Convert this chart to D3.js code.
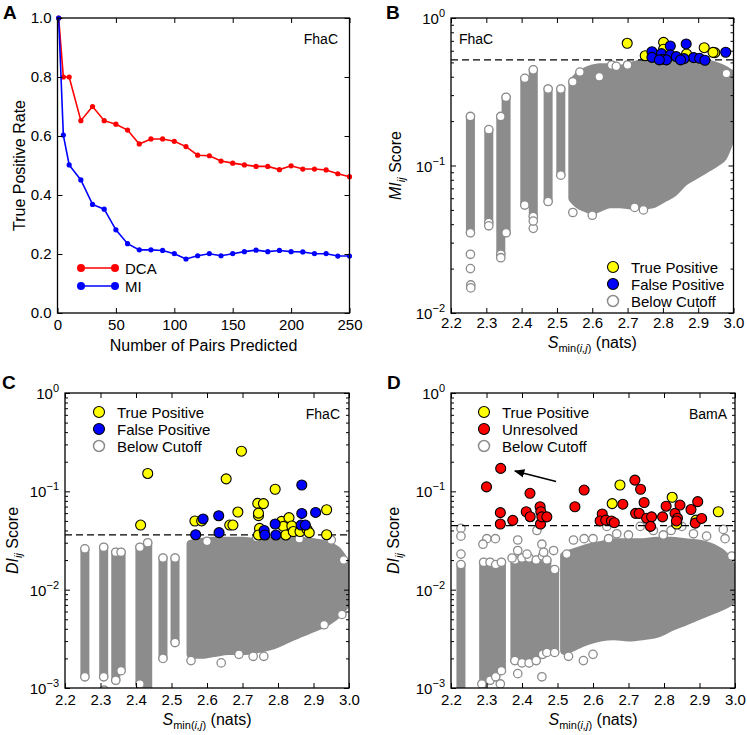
<!DOCTYPE html>
<html>
<head>
<meta charset="utf-8">
<script src="https://cdn.jsdelivr.net/npm/d3@7"></script>
<style>
  body { margin: 0; background: #fff; }
  text { font-family: "Liberation Sans", Arial, sans-serif; }
</style>
</head>
<body>
<svg id="fig" width="747" height="735"></svg>
<script>
// ---- panel A : true positive rate vs number of predicted pairs ----
const pairs = [1, 5, 10, 20, 30, 40, 50, 60, 70, 80, 90, 100, 110, 120, 130, 140, 150, 160, 170, 180, 190, 200, 210, 220, 230, 240, 250];
const dcaRate = [1.0, 0.80, 0.80, 0.652, 0.70, 0.652, 0.64, 0.62, 0.573, 0.59, 0.59, 0.582, 0.564, 0.535, 0.533, 0.515, 0.508, 0.502, 0.497, 0.497, 0.486, 0.499, 0.488, 0.488, 0.485, 0.472, 0.462];
const miRate = [1.0, 0.603, 0.502, 0.451, 0.368, 0.352, 0.282, 0.235, 0.214, 0.214, 0.212, 0.201, 0.183, 0.194, 0.201, 0.194, 0.201, 0.208, 0.213, 0.208, 0.212, 0.208, 0.207, 0.201, 0.201, 0.193, 0.193];
const pairTicks = [0, 50, 100, 150, 200, 250];
const rateTicks = [0, 0.2, 0.4, 0.6, 0.8, 1.0];

// ---- shared S_min axis ----
const sTicks = [2.2, 2.3, 2.4, 2.5, 2.6, 2.7, 2.8, 2.9, 3.0];

// ---- panel B : MI scores, FhaC ----
const bCut = 0.52;
// dense columns of below-cutoff pairs: [S_min, low, high]
const bColumns = [
  [2.255, 0.035, 0.215], [2.307, 0.041, 0.175], [2.341, 0.025, 0.215], [2.356, 0.035, 0.29],
  [2.409, 0.054, 0.39], [2.433, 0.045, 0.445], [2.475, 0.057, 0.33], [2.511, 0.086, 0.33]
];
const bBandS = [2.545, 2.56, 2.58, 2.60, 2.62, 2.65, 2.68, 2.71, 2.74, 2.77, 2.80, 2.83, 2.86, 2.89, 2.92, 2.95, 2.97, 2.99];
const bBandLow = [0.060, 0.055, 0.052, 0.050, 0.052, 0.055, 0.055, 0.054, 0.054, 0.055, 0.060, 0.066, 0.078, 0.086, 0.095, 0.105, 0.115, 0.15];
const bBandHigh = [0.36, 0.40, 0.43, 0.45, 0.46, 0.46, 0.45, 0.47, 0.49, 0.50, 0.50, 0.50, 0.50, 0.50, 0.49, 0.47, 0.45, 0.42];
const bSparse = [[2.255, 0.025], [2.255, 0.020], [2.256, 0.0155], [2.256, 0.0148], [2.307, 0.039], [2.341, 0.0237],
  [2.433, 0.0375], [2.433, 0.042], [2.545, 0.048], [2.60, 0.046], [2.72, 0.052], [2.745, 0.050], [2.545, 0.37],
  [2.62, 0.40], [2.655, 0.48], [2.668, 0.47], [2.70, 0.48], [2.565, 0.43], [2.98, 0.42]];
const bTrue = [[2.699, 0.674], [2.802, 0.684], [2.802, 0.614], [2.917, 0.629], [2.947, 0.582], [2.942, 0.585], [2.750, 0.555], [2.867, 0.570]];
const bFalse = [[2.821, 0.646], [2.866, 0.667], [2.978, 0.586], [2.769, 0.591], [2.769, 0.541], [2.796, 0.573], [2.821, 0.562],
  [2.838, 0.547], [2.887, 0.539], [2.904, 0.533], [2.919, 0.517], [2.80, 0.525], [2.81, 0.52], [2.86, 0.53], [2.85, 0.52], [2.79, 0.52]];

// ---- panel C : DI scores, FhaC ----
const cCut = 0.036;
const cColumns = [
  [2.256, 0.0013, 0.026], [2.309, 0.0013, 0.027], [2.343, 0.0012, 0.024], [2.358, 0.0015, 0.024],
  [2.411, 0.0011, 0.027], [2.433, 0.0009, 0.030], [2.476, 0.0020, 0.021], [2.510, 0.0029, 0.021]
];
const cBandS = [2.555, 2.58, 2.62, 2.66, 2.70, 2.74, 2.78, 2.82, 2.86, 2.90, 2.94, 2.97, 2.995];
const cBandLow = [0.0022, 0.0022, 0.0023, 0.0024, 0.0024, 0.0025, 0.0027, 0.0031, 0.0036, 0.0041, 0.0048, 0.0058, 0.0075];
const cBandHigh = [0.029, 0.030, 0.031, 0.031, 0.031, 0.030, 0.031, 0.032, 0.031, 0.030, 0.028, 0.024, 0.017];
const cSparse = [[2.31, 0.00095], [2.555, 0.0019], [2.64, 0.0018], [2.69, 0.0022], [2.73, 0.0021], [2.76, 0.0021],
  [2.93, 0.0044], [2.98, 0.0056], [2.60, 0.031], [2.74, 0.034], [2.86, 0.033], [2.95, 0.032], [2.985, 0.020]];
const cTrue = [[2.413, 0.0454], [2.433, 0.152], [2.566, 0.0499], [2.585, 0.050], [2.654, 0.134], [2.664, 0.0454], [2.673, 0.0454],
  [2.687, 0.0616], [2.697, 0.256], [2.743, 0.0754], [2.759, 0.075], [2.745, 0.0566], [2.745, 0.060], [2.748, 0.042], [2.745, 0.036],
  [2.792, 0.105], [2.81, 0.0495], [2.815, 0.044], [2.822, 0.036], [2.831, 0.054], [2.839, 0.0444], [2.843, 0.039], [2.862, 0.039],
  [2.882, 0.041], [2.888, 0.038], [2.937, 0.065], [2.937, 0.0362]];
const cFalse = [[2.568, 0.0362], [2.589, 0.0524], [2.633, 0.0565], [2.634, 0.038], [2.761, 0.040], [2.763, 0.036], [2.792, 0.0465],
  [2.794, 0.036], [2.867, 0.116], [2.867, 0.0596], [2.865, 0.0454], [2.877, 0.0454], [2.906, 0.061]];

// ---- panel D : DI scores, BamA ----
const dCut = 0.0448;
const dColumns = [
  [2.228, 0.0009, 0.018], [2.292, 0.0011, 0.019], [2.31, 0.0012, 0.019], [2.326, 0.0013, 0.018], [2.342, 0.0015, 0.019],
  [2.38, 0.0019, 0.020], [2.40, 0.0018, 0.021], [2.42, 0.0018, 0.021], [2.44, 0.0019, 0.020], [2.458, 0.0022, 0.022],
  [2.47, 0.0023, 0.020], [2.492, 0.0023, 0.016]
];
const dBandS = [2.52, 2.55, 2.58, 2.62, 2.66, 2.70, 2.74, 2.78, 2.82, 2.86, 2.90, 2.94, 2.97, 2.995];
const dBandLow = [0.0024, 0.0027, 0.0030, 0.0033, 0.0034, 0.0033, 0.0034, 0.0036, 0.0042, 0.0048, 0.0055, 0.0063, 0.0070, 0.0080];
const dBandHigh = [0.022, 0.024, 0.026, 0.028, 0.030, 0.030, 0.030, 0.031, 0.031, 0.030, 0.029, 0.026, 0.022, 0.016];
const dSparse = [[2.228, 0.042], [2.228, 0.035], [2.228, 0.023], [2.301, 0.033], [2.29, 0.029], [2.325, 0.033], [2.372, 0.021],
  [2.388, 0.032], [2.388, 0.025], [2.414, 0.023], [2.442, 0.040], [2.456, 0.029], [2.461, 0.024], [2.489, 0.025],
  [2.526, 0.023], [2.545, 0.032], [2.575, 0.033], [2.60, 0.033], [2.639, 0.044], [2.644, 0.033], [2.667, 0.037], [2.70, 0.036],
  [2.733, 0.044], [2.77, 0.040], [2.798, 0.036], [2.82, 0.040], [2.85, 0.044], [2.883, 0.037], [2.92, 0.035], [2.967, 0.041],
  [2.972, 0.033], [2.991, 0.022], [2.287, 0.0011], [2.339, 0.0011], [2.388, 0.0014], [2.456, 0.0013], [2.531, 0.0021],
  [2.573, 0.0019], [2.60, 0.0022]];
const dTrue = [[2.654, 0.075], [2.676, 0.116], [2.823, 0.087], [2.836, 0.0465], [2.890, 0.051], [2.953, 0.062]];
const dUnresolved = [[2.30, 0.111], [2.34, 0.171], [2.339, 0.0607], [2.339, 0.0465], [2.374, 0.0507], [2.412, 0.062], [2.4225, 0.0955],
  [2.423, 0.0552], [2.451, 0.0697], [2.453, 0.062], [2.452, 0.0465], [2.456, 0.055], [2.470, 0.055], [2.549, 0.0697], [2.575, 0.103],
  [2.626, 0.0588], [2.62, 0.050], [2.636, 0.051], [2.652, 0.050], [2.66, 0.048], [2.684, 0.074], [2.718, 0.130], [2.734, 0.105],
  [2.72, 0.0597], [2.73, 0.0597], [2.744, 0.077], [2.751, 0.0533], [2.765, 0.055], [2.762, 0.044], [2.796, 0.055], [2.806, 0.0706],
  [2.831, 0.0597], [2.838, 0.0532], [2.835, 0.050], [2.845, 0.0725], [2.876, 0.0653], [2.895, 0.0785], [2.888, 0.0475], [2.906, 0.053]];
const dArrow = [[2.496, 0.126], [2.38, 0.161]];

const GRAY = '#8c8c8c';
const svg = d3.select('#fig');

function styleAxis(sel) {
  sel.select('.domain').remove();
  sel.selectAll('line').attr('stroke', '#000').attr('stroke-width', 1);
  sel.selectAll('text').attr('font-family', '"Liberation Sans", Arial, sans-serif').attr('font-size', 15).attr('fill', '#000');
}

function box(g, p) {
  g.append('rect').attr('x', p.l).attr('y', p.t).attr('width', p.r - p.l).attr('height', p.b - p.t)
    .attr('fill', 'none').attr('stroke', '#000').attr('stroke-width', 1.3);
}

function xAxes(g, x, p, ticks, fmt, pad) {
  g.append('g').attr('transform', `translate(0,${p.b})`)
    .call(d3.axisBottom(x).tickValues(ticks).tickSize(-5).tickPadding(pad).tickFormat(fmt)).call(styleAxis);
  g.append('g').attr('transform', `translate(0,${p.t})`)
    .call(d3.axisTop(x).tickValues(ticks).tickSize(-5).tickFormat('')).call(styleAxis);
}

function logYAxes(g, y, p) {
  const [lo, hi] = y.domain();
  const majors = [], minors = [];
  for (let e = Math.round(Math.log10(lo)); e <= Math.round(Math.log10(hi)); e++) {
    majors.push(Math.pow(10, e));
    if (e < Math.round(Math.log10(hi))) for (let k = 2; k <= 9; k++) minors.push(k * Math.pow(10, e));
  }
  [[p.l, d3.axisRight], [p.r, d3.axisLeft]].forEach(([xx, ax]) => {
    g.append('g').attr('transform', `translate(${xx},0)`)
      .call(ax(y).tickValues(majors).tickSize(5).tickFormat('')).call(styleAxis);
    g.append('g').attr('transform', `translate(${xx},0)`)
      .call(ax(y).tickValues(minors).tickSize(3).tickFormat('')).call(styleAxis);
  });
  majors.forEach(v => {
    const e = Math.round(Math.log10(v));
    const t = g.append('text').attr('x', p.l - 6).attr('y', y(v) + 6).attr('text-anchor', 'end').attr('font-size', 15);
    t.append('tspan').text('10');
    t.append('tspan').attr('dy', -7).attr('font-size', 11).text(e < 0 ? '\u2212' + (-e) : String(e));
  });
}

function sTitle(g, p, yy) {
  const t = g.append('text').attr('x', (p.l + p.r) / 2).attr('y', yy).attr('text-anchor', 'middle').attr('font-size', 16);
  t.append('tspan').attr('font-style', 'italic').text('S');
  t.append('tspan').attr('font-size', 11).attr('dy', 4).text('min(');
  t.append('tspan').attr('font-size', 11).attr('font-style', 'italic').text('i,j');
  t.append('tspan').attr('font-size', 11).text(')');
  t.append('tspan').attr('dy', -4).text(' (nats)');
}

function scoreTitle(g, cx, cy, name) {
  const t = g.append('text').attr('transform', `translate(${cx},${cy}) rotate(-90)`)
    .attr('text-anchor', 'middle').attr('font-size', 16);
  t.append('tspan').attr('font-style', 'italic').text(name);
  t.append('tspan').attr('font-style', 'italic').attr('font-size', 11).attr('dy', 4).text('ij');
  t.append('tspan').attr('dy', -4).text(' Score');
}

function cloud(g, x, y, cols, bandS, bandLow, bandHigh, sparse) {
  const band = bandS.map((s, i) => ({ s, lo: bandLow[i], hi: bandHigh[i] }));
  g.append('path').datum(band)
    .attr('d', d3.area().x(d => x(d.s)).y0(d => y(d.lo)).y1(d => y(d.hi)).curve(d3.curveMonotoneX))
    .attr('fill', GRAY).attr('stroke', GRAY).attr('stroke-width', 9).attr('stroke-linejoin', 'round');
  g.selectAll('line.col').data(cols).join('line').attr('class', 'col')
    .attr('x1', d => x(d[0])).attr('x2', d => x(d[0]))
    .attr('y1', d => y(d[1])).attr('y2', d => y(d[2]))
    .attr('stroke', GRAY).attr('stroke-width', 9).attr('stroke-linecap', 'round');
  const ends = cols.flatMap(d => [[d[0], d[1]], [d[0], d[2]]]).concat(sparse);
  g.selectAll('circle.open').data(ends).join('circle').attr('class', 'open')
    .attr('cx', d => x(d[0])).attr('cy', d => y(d[1])).attr('r', 4.2)
    .attr('fill', '#fff').attr('stroke', GRAY).attr('stroke-width', 1.3);
}

function dots(g, x, y, data, color) {
  g.append('g').selectAll('circle').data(data).join('circle')
    .attr('cx', d => x(d[0])).attr('cy', d => y(d[1])).attr('r', 5)
    .attr('fill', color).attr('stroke', '#000').attr('stroke-width', 1.1);
}

function cutoff(g, y, p, v) {
  g.append('line').attr('x1', p.l).attr('x2', p.r).attr('y1', y(v)).attr('y2', y(v))
    .attr('stroke', '#000').attr('stroke-width', 1.3).attr('stroke-dasharray', '7,4');
}

function legend(g, lx, ly, items) {
  items.forEach((it, i) => {
    g.append('circle').attr('cx', lx).attr('cy', ly + i * 17).attr('r', 5.5)
      .attr('fill', it.fill).attr('stroke', it.stroke).attr('stroke-width', it.open ? 1.5 : 1.1);
    g.append('text').attr('x', lx + 18).attr('y', ly + i * 17 + 5.5).attr('font-size', 15).text(it.label);
  });
}

function panelLetter(x, y, s) {
  svg.append('text').attr('x', x).attr('y', y).attr('font-size', 19).attr('font-weight', 'bold').text(s);
}

function scatterPanel(id, p, yDomain, set) {
  const g = svg.append('g');
  const x = d3.scaleLinear().domain([2.2, 3.0]).range([p.l, p.r]);
  const y = d3.scaleLog().domain(yDomain).range([p.b, p.t]);
  g.append('clipPath').attr('id', 'clip' + id).append('rect')
    .attr('x', p.l).attr('y', p.t).attr('width', p.r - p.l).attr('height', p.b - p.t);
  const inner = g.append('g').attr('clip-path', `url(#clip${id})`);
  cloud(inner, x, y, set.cols, set.bandS, set.bandLow, set.bandHigh, set.sparse);
  cutoff(inner, y, p, set.cut);
  dots(inner, x, y, set.first, set.firstColor);
  dots(inner, x, y, set.second, set.secondColor);
  xAxes(g, x, p, sTicks, d3.format('.1f'), set.pad);
  logYAxes(g, y, p);
  box(g, p);
  return { g, x, y };
}

// ---------- Panel A ----------
(function () {
  const p = { l: 57.5, r: 349.5, t: 18, b: 313 };
  const g = svg.append('g');
  const x = d3.scaleLinear().domain([0, 250]).range([p.l, p.r]);
  const y = d3.scaleLinear().domain([0, 1]).range([p.b, p.t]);
  const series = [{ v: dcaRate, c: '#ff0000', name: 'DCA' }, { v: miRate, c: '#0000ff', name: 'MI' }];
  const line = d3.line().x(d => x(d[0])).y(d => y(d[1]));
  series.forEach(s => {
    const pts = pairs.map((n, i) => [n, s.v[i]]);
    g.append('path').datum(pts).attr('d', line).attr('fill', 'none').attr('stroke', s.c).attr('stroke-width', 1.6);
    g.append('g').selectAll('circle').data(pts).join('circle')
      .attr('cx', d => x(d[0])).attr('cy', d => y(d[1])).attr('r', 2.6).attr('fill', s.c);
  });
  xAxes(g, x, p, pairTicks, d3.format('d'), 6);
  g.append('g').attr('transform', `translate(${p.l},0)`)
    .call(d3.axisLeft(y).tickValues(rateTicks).tickSize(-5).tickPadding(6).tickFormat(d3.format('.1f'))).call(styleAxis);
  g.append('g').attr('transform', `translate(${p.r},0)`)
    .call(d3.axisRight(y).tickValues(rateTicks).tickSize(-5).tickFormat('')).call(styleAxis);
  box(g, p);
  // legend
  series.forEach((s, i) => {
    const ly = 268 + i * 18;
    g.append('line').attr('x1', 81).attr('x2', 115).attr('y1', ly).attr('y2', ly).attr('stroke', s.c).attr('stroke-width', 1.6);
    g.append('circle').attr('cx', 81).attr('cy', ly).attr('r', 4).attr('fill', s.c);
    g.append('circle').attr('cx', 115).attr('cy', ly).attr('r', 4).attr('fill', s.c);
    g.append('text').attr('x', 125).attr('y', ly + 5.5).attr('font-size', 15).text(s.name);
  });
  g.append('text').attr('x', 338).attr('y', 44).attr('text-anchor', 'end').attr('font-size', 14).text('FhaC');
  g.append('text').attr('x', (p.l + p.r) / 2).attr('y', 351).attr('text-anchor', 'middle').attr('font-size', 16).text('Number of Pairs Predicted');
  g.append('text').attr('transform', `translate(25,${(p.t + p.b) / 2}) rotate(-90)`).attr('text-anchor', 'middle')
    .attr('font-size', 16).text('True Positive Rate');
})();

// ---------- Panel B ----------
(function () {
  const p = { l: 451, r: 733.5, t: 18, b: 313 };
  const { g } = scatterPanel('B', p, [1e-2, 1], {
    cols: bColumns, bandS: bBandS, bandLow: bBandLow, bandHigh: bBandHigh, sparse: bSparse, cut: bCut,
    first: bTrue, firstColor: '#ffff00', second: bFalse, secondColor: '#0000ff', pad: 4
  });
  legend(g, 613, 267, [
    { label: 'True Positive', fill: '#ffff00', stroke: '#000' },
    { label: 'False Positive', fill: '#0000ff', stroke: '#000' },
    { label: 'Below Cutoff', fill: '#fff', stroke: GRAY, open: true }
  ]);
  g.append('text').attr('x', 459).attr('y', 44).attr('font-size', 14).text('FhaC');
  sTitle(g, p, 348);
  scoreTitle(g, 401, (p.t + p.b) / 2, 'MI');
})();

// ---------- Panel C ----------
(function () {
  const p = { l: 65, r: 349, t: 393, b: 688 };
  const { g } = scatterPanel('C', p, [1e-3, 1], {
    cols: cColumns, bandS: cBandS, bandLow: cBandLow, bandHigh: cBandHigh, sparse: cSparse, cut: cCut,
    first: cTrue, firstColor: '#ffff00', second: cFalse, secondColor: '#0000ff', pad: 6
  });
  legend(g, 99, 412, [
    { label: 'True Positive', fill: '#ffff00', stroke: '#000' },
    { label: 'False Positive', fill: '#0000ff', stroke: '#000' },
    { label: 'Below Cutoff', fill: '#fff', stroke: GRAY, open: true }
  ]);
  g.append('text').attr('x', 340).attr('y', 419).attr('text-anchor', 'end').attr('font-size', 14).text('FhaC');
  sTitle(g, p, 725);
  scoreTitle(g, 18, (p.t + p.b) / 2, 'DI');
})();

// ---------- Panel D ----------
(function () {
  const p = { l: 451, r: 735, t: 393, b: 688 };
  const { g, x, y } = scatterPanel('D', p, [1e-3, 1], {
    cols: dColumns, bandS: dBandS, bandLow: dBandLow, bandHigh: dBandHigh, sparse: dSparse, cut: dCut,
    first: dTrue, firstColor: '#ffff00', second: dUnresolved, secondColor: '#ff0000', pad: 6
  });
  legend(g, 484, 412, [
    { label: 'True Positive', fill: '#ffff00', stroke: '#000' },
    { label: 'Unresolved', fill: '#ff0000', stroke: '#000' },
    { label: 'Below Cutoff', fill: '#fff', stroke: GRAY, open: true }
  ]);
  g.append('text').attr('x', 727).attr('y', 419).attr('text-anchor', 'end').attr('font-size', 14).text('BamA');
  // arrow pointing at the highest unresolved pair
  svg.append('defs').append('marker').attr('id', 'head').attr('viewBox', '0 0 10 10').attr('refX', 9).attr('refY', 5)
    .attr('markerWidth', 7).attr('markerHeight', 7).attr('orient', 'auto')
    .append('path').attr('d', 'M0,1 L10,5 L0,9 Z').attr('fill', '#000');
  g.append('line').attr('x1', x(dArrow[0][0])).attr('y1', y(dArrow[0][1]))
    .attr('x2', x(dArrow[1][0])).attr('y2', y(dArrow[1][1]))
    .attr('stroke', '#000').attr('stroke-width', 1.5).attr('marker-end', 'url(#head)');
  sTitle(g, p, 725);
  scoreTitle(g, 399, (p.t + p.b) / 2, 'DI');
})();

panelLetter(3, 19, 'A');
panelLetter(386, 19, 'B');
panelLetter(2, 389, 'C');
panelLetter(387, 389, 'D');
</script>
</body>
</html>
